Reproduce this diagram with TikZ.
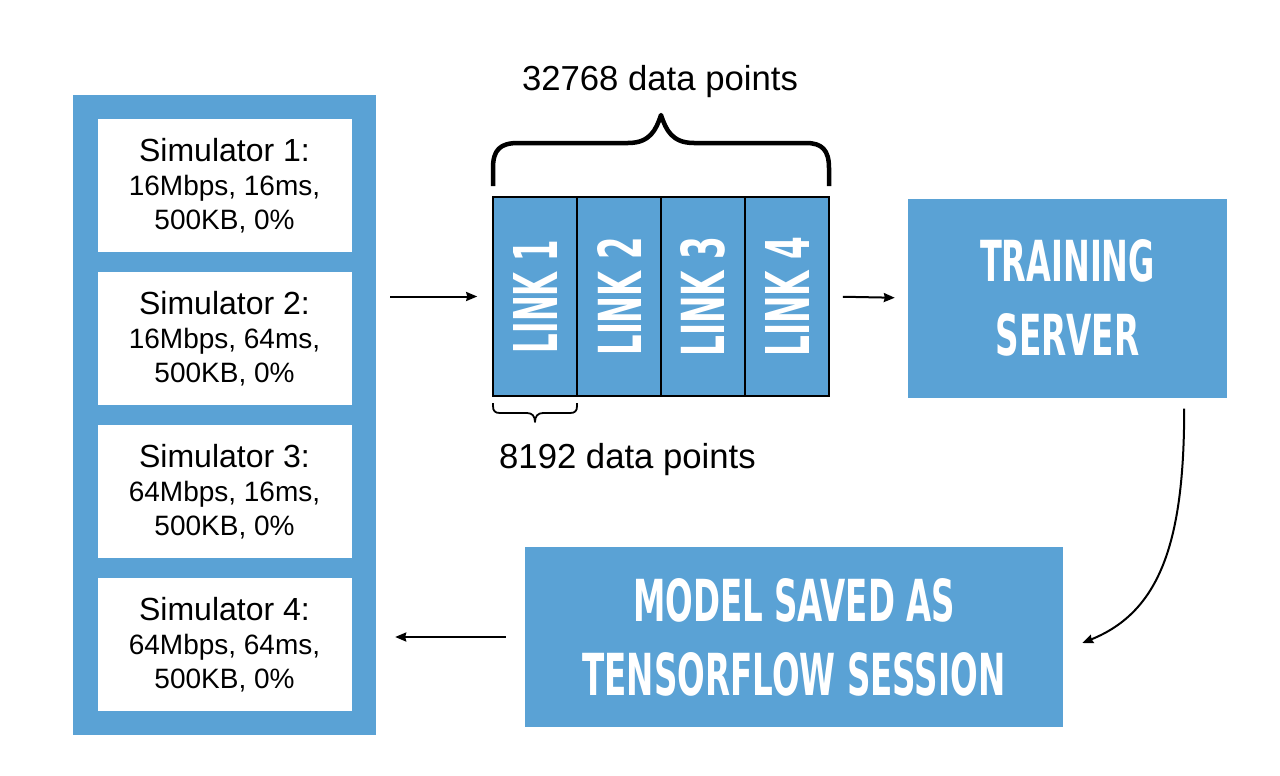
\documentclass[tikz,border=0pt]{standalone}
\usepackage{fontspec}
\setmainfont{Liberation Sans}
\newfontfamily\dinfont{DejaVu Sans}
\usepackage{graphicx}
\usetikzlibrary{arrows.meta,calc}
\definecolor{skyblue}{RGB}{90,162,213}
\newcommand{\dinline}[3]{\resizebox{#1pt}{#2pt}{\dinfont\bfseries #3}}
\tikzset{
 simframe/.style={fill=skyblue, minimum width=303pt, minimum height=640pt, inner sep=0pt},
 simbox/.style={fill=white, minimum width=254pt, minimum height=133pt, inner sep=0pt, align=center, font=\fontsize{28}{34}\selectfont},
 linkbox/.style={fill=skyblue, draw=black, line width=1.6pt, minimum width=84pt, minimum height=199pt, inner sep=0pt, text=white},
 bluebox/.style={fill=skyblue, inner sep=0pt, align=center, text=white, font=\fontsize{50}{74}\selectfont},
 conn/.style={-{Stealth[length=11pt,width=9pt,inset=1pt]}, line width=2pt},
 lbl/.style={font=\fontsize{34.7}{40}\selectfont, inner sep=0pt, anchor=base},
 brc/.style={line join=round},
}
\newcommand{\simhead}[1]{{\fontsize{32}{35}\selectfont Simulator #1:}}
\begin{document}
\begin{tikzpicture}[x=1pt,y=-1pt]
\useasboundingbox (0,0) rectangle (1280,776);
\fill[white] (0,0) rectangle (1280,776);
% left frame with simulators
\node[simframe] (simframe) at (224.5,415) {};
\node[simbox] (sim1) at (224.5,185.5) {\simhead{1}\\16Mbps, 16ms,\\500KB, 0\%};
\node[simbox] (sim2) at (224.5,338.5) {\simhead{2}\\16Mbps, 64ms,\\500KB, 0\%};
\node[simbox] (sim3) at (224.5,491.5) {\simhead{3}\\64Mbps, 16ms,\\500KB, 0\%};
\node[simbox] (sim4) at (224.5,644.5) {\simhead{4}\\64Mbps, 64ms,\\500KB, 0\%};
% links
\node[linkbox] (l1) at (535,296.5) {\rotatebox{90}{\dinline{113}{44}{LINK 1}}};
\node[linkbox] (l2) at (619,296.5) {\rotatebox{90}{\dinline{118}{44}{LINK 2}}};
\node[linkbox] (l3) at (703,296.5) {\rotatebox{90}{\dinline{120}{44}{LINK 3}}};
\node[linkbox] (l4) at (787,296.5) {\rotatebox{90}{\dinline{120}{44}{LINK 4}}};
% training server and model
\node[bluebox, minimum width=319pt, minimum height=199pt] (train) at (1067.5,298) {\dinline{175}{42}{TRAINING}\\\dinline{144}{42}{SERVER}};
\node[bluebox, minimum width=538pt, minimum height=180pt] (model) at (794,637) {\dinline{322}{43}{MODEL SAVED AS}\\\dinline{423}{43}{TENSORFLOW SESSION}};
% labels
\node[lbl] (toplbl) at (660,91) {32768 data points};
\node[lbl] (botlbl) at (627.5,468) {8192 data points};
% big brace
\draw[brc, line width=4.5pt] (493,186) -- (493,168) .. controls (493,150) and (500,143) .. (518,143) -- (628,143) .. controls (650,143) and (656,130) .. (661,115) .. controls (666,130) and (672,143) .. (694,143) -- (806,143) .. controls (822,143) and (829,150) .. (829,168) -- (829,186);
% small brace
\draw[brc, line width=1.8pt] (493,403) -- (493,406) .. controls (493,411) and (495,413) .. (500,413) -- (527,413) .. controls (532,413) and (535,416) .. (535,422) .. controls (535,416) and (538,413) .. (543,413) -- (570,413) .. controls (575,413) and (577,411) .. (577,406) -- (577,403);
% connectors
\draw[conn, shorten <=14pt, shorten >=15pt] (simframe.east |- l1.west) -- (l1.west);
\draw[conn, shorten <=13pt, shorten >=13pt] (l4.east) -- (train.west);
\coordinate (cs) at ($(train.south east)+(-43,11)$);
\coordinate (ce) at ($(model.east)+(19,6)$);
\draw[conn] (cs) .. controls ($(cs)+(0,133)$) and ($(cs)+(-24,203)$) .. (ce);
\draw[conn, shorten <=19pt, shorten >=19pt] (model.west) -- (simframe.east |- model.west);
\end{tikzpicture}
\end{document}
